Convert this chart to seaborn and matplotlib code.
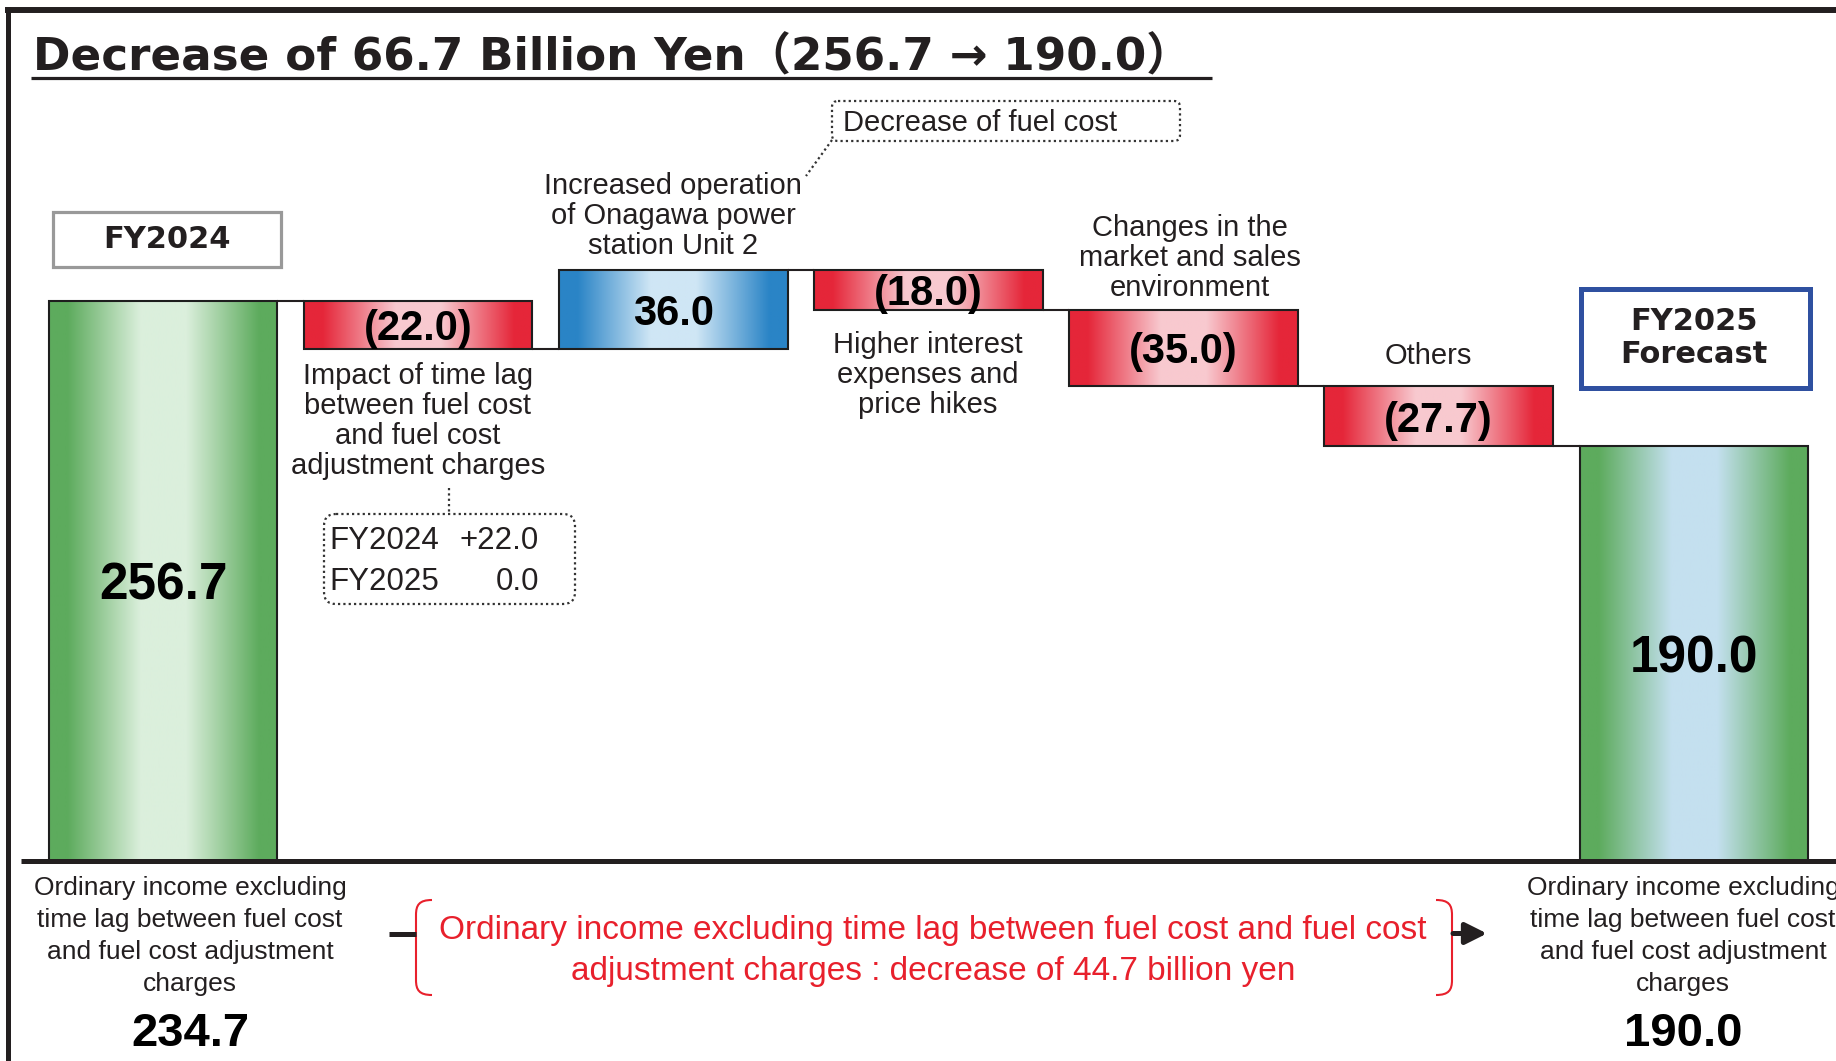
import numpy as np
import pandas as pd
import seaborn as sns
import matplotlib.pyplot as plt
from matplotlib.patches import Rectangle, FancyBboxPatch, PathPatch
from matplotlib.path import Path
from matplotlib.colors import to_rgb

# data (billion yen)
steps = ["FY2024", "Time lag", "Onagawa", "Interest", "Market", "Others", "FY2025"]
start_value = 256.7
changes = [-22.0, 36.0, -18.0, -35.0, -27.7]
value_labels = ["256.7", "(22.0)", "36.0", "(18.0)", "(35.0)", "(27.7)", "190.0"]
excl_values = ["234.7", "190.0"]
timelag_years = ["FY2024", "FY2025"]
timelag_values = ["+22.0", "0.0"]

levels = np.concatenate([[start_value], start_value + np.cumsum(changes)])
end_value = round(levels[-1], 1)
heights = [start_value] + [abs(c) for c in changes] + [end_value]
bottoms = [0.0] + [min(levels[i], levels[i + 1]) for i in range(len(changes))] + [0.0]
kinds = ["total"] + ["up" if c > 0 else "down" for c in changes] + ["total_end"]

sns.set_style("white")
plt.rcParams["font.family"] = ["Liberation Sans", "DejaVu Sans"]

INK = "#231f20"
fig = plt.figure(figsize=(18.36, 10.61), dpi=100)
ax = fig.add_axes([0, 0, 1, 1])

df = pd.DataFrame({"step": steps, "height": heights})
BAR_W = 0.895
sns.barplot(data=df, x="step", y="height", bottom=bottoms, width=BAR_W,
            errorbar=None, color="white", facecolor="none", edgecolor="#1e1e1e",
            linewidth=1.5, zorder=3, ax=ax)

# gradient fills: colour at the sides, pale in the middle
grad_cols = {
    "total": ("#5dab5d", "#dbefdc"),
    "total_end": ("#5dab5d", "#c4e0ef"),
    "up": ("#2a84c6", "#cfe6f5"),
    "down": ("#e52639", "#f8c9cf"),
}
t = np.interp(np.linspace(0, 1, 256), [0, 0.08, 0.4, 0.6, 0.92, 1], [0, 0, 1, 1, 0, 0])
for p, kind in zip(ax.patches, kinds):
    c0, c1 = (np.array(to_rgb(c)) for c in grad_cols[kind])
    img = (c0[None, :] * (1 - t[:, None]) + c1[None, :] * t[:, None])[None, :, :]
    x0, y0 = p.get_xy()
    ax.imshow(img, extent=[x0, x0 + p.get_width(), y0, y0 + p.get_height()],
              aspect="auto", interpolation="bilinear", zorder=2)

# connectors between bars
for i, lv in enumerate(levels):
    ax.plot([i + BAR_W / 2, i + 1 - BAR_W / 2], [lv, lv], color=INK, lw=1.5, zorder=3)

# value labels
sizes = [37, 30, 30, 30, 30, 30, 37]
for i, (lab, b, h) in enumerate(zip(value_labels, bottoms, heights)):
    ax.text(i, b + h / 2, lab, ha="center", va="center_baseline", fontsize=sizes[i],
            fontweight="bold", color="black", zorder=5)

ax.set_xlim(-0.640, 6.558)
ax.set_ylim(-91.9, 394.7)
ax.set_axis_off()

# overlay in pixel coordinates for the annotations
ov = fig.add_axes([0, 0, 1, 1])
ov.set_xlim(0, 1836)
ov.set_ylim(1061, 0)
ov.set_axis_off()
ov.patch.set_alpha(0)

# frame and baseline
ov.plot([5, 1836], [10, 10], color=INK, lw=4.3, solid_capstyle="butt")
ov.plot([7.5, 7.5], [7, 1061], color=INK, lw=3.6, solid_capstyle="butt")
ov.plot([21, 1836], [861, 861], color=INK, lw=3.6, solid_capstyle="butt", zorder=1)

# title
ov.text(33, 58, "Decrease of 66.7 Billion Yen（256.7 → 190.0）", fontsize=32.6,
        fontweight="bold", color=INK, va="center", ha="left",
        family=["DejaVu Sans", "Noto Sans CJK JP"])
ov.plot([31, 1212], [78, 78], color=INK, lw=2.3, solid_capstyle="butt")

# period boxes
ov.add_patch(Rectangle((53, 212), 228, 55, facecolor="white", edgecolor="#999999", lw=2.3))
ov.text(167, 240, "FY2024", fontsize=22, fontweight="bold", color=INK,
        ha="center", va="center", family="DejaVu Sans")
ov.add_patch(Rectangle((1581, 289), 229, 99, facecolor="white", edgecolor="#2f50a0", lw=3.6))
ov.text(1694, 338, "FY2025\nForecast", fontsize=22, fontweight="bold", color=INK,
        ha="center", va="center", linespacing=1.17, family="DejaVu Sans")

# item descriptions
desc = dict(fontsize=21, color=INK, ha="center", va="center", linespacing=1.1)
ov.text(418, 421, "Impact of time lag\nbetween fuel cost\nand fuel cost\nadjustment charges", **desc)
ov.text(673, 216, "Increased operation\nof Onagawa power\nstation Unit 2", **desc)
ov.text(928, 375, "Higher interest\nexpenses and\nprice hikes", **desc)
ov.text(1190, 258, "Changes in the\nmarket and sales\nenvironment", **desc)
ov.text(1428, 356, "Others", **desc)

dotted = dict(facecolor="white", edgecolor="#333333", lw=1.6, linestyle=(0, (1, 1.4)))
ov.add_patch(FancyBboxPatch((832, 101), 348, 40, boxstyle="round,pad=0,rounding_size=6", **dotted))
ov.text(843, 123, "Decrease of fuel cost", fontsize=21, color=INK, ha="left", va="center")
ov.plot([832, 806], [140, 176], color="#333333", lw=1.6, linestyle=(0, (1, 1.4)))

ov.add_patch(FancyBboxPatch((324, 514), 251, 90, boxstyle="round,pad=0,rounding_size=12", **dotted))
ov.plot([449, 449], [488, 514], color="#333333", lw=1.6, linestyle=(0, (1, 1.4)))
for yy, yr, v in zip([541, 582], timelag_years, timelag_values):
    ov.text(329, yy, yr, fontsize=22.5, color=INK, ha="left", va="center")
    ov.text(539, yy, v, fontsize=22.5, color=INK, ha="right", va="center")

# bottom notes
note = "Ordinary income excluding\ntime lag between fuel cost\nand fuel cost adjustment\ncharges"
for xx, val in zip([190, 1683], excl_values):
    ov.text(xx, 936, note, fontsize=19, color=INK, ha="center", va="center", linespacing=1.43)
    ov.text(xx, 1029, val, fontsize=34, fontweight="bold", color="black",
            ha="center", va="center_baseline")

RED = "#e8202c"
ov.text(933, 951, "Ordinary income excluding time lag between fuel cost and fuel cost\n"
        "adjustment charges : decrease of 44.7 billion yen",
        fontsize=24, color=RED, ha="center", va="center", linespacing=1.38)

for xe, xi in [(416, 432), (1452, 1436)]:
    verts = [(xi, 900), (xe + (xi - xe) * 0.2, 900), (xe, 905), (xe, 915),
             (xe, 980), (xe, 990), (xe + (xi - xe) * 0.2, 995), (xi, 995)]
    codes = [Path.MOVETO, Path.CURVE4, Path.CURVE4, Path.CURVE4,
             Path.LINETO, Path.CURVE4, Path.CURVE4, Path.CURVE4]
    ov.add_patch(PathPatch(Path(verts, codes), facecolor="none", edgecolor=RED, lw=1.5))

ov.plot([389, 416], [933.5, 933.5], color=INK, lw=3.6, solid_capstyle="butt")
ov.annotate("", xy=(1487, 933.5), xytext=(1453, 933.5),
            arrowprops=dict(arrowstyle="-|>,head_length=1.3,head_width=0.65",
                            lw=3.6, color=INK, shrinkA=0, shrinkB=0))

fig.savefig("out.png", dpi=100)
